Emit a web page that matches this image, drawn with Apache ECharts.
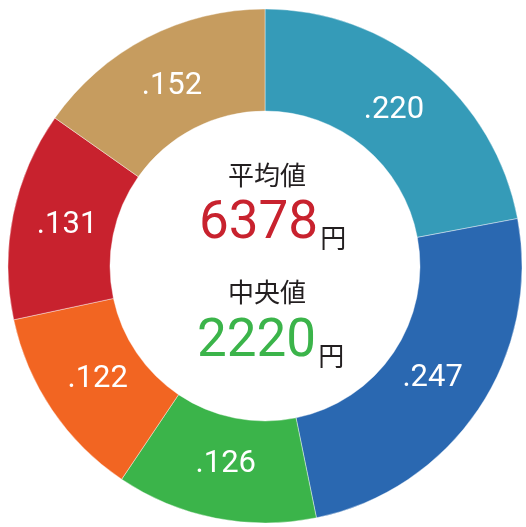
<!DOCTYPE html>
<html>
<head>
<meta charset="utf-8">
<script src="https://cdn.jsdelivr.net/npm/echarts@6/dist/echarts.min.js"></script>
<style>
  html, body { margin: 0; padding: 0; background: #fff; }
  #main { width: 526px; height: 527px; }
</style>
</head>
<body>
<div id="main"></div>
<script>
// slices, clockwise from 12 o'clock
var names = ['a', 'b', 'c', 'd', 'e', 'f'];
var values = [0.220, 0.247, 0.126, 0.122, 0.131, 0.152];
var colors = ['#359bb8', '#2a68b1', '#3bb44a', '#f26522', '#c8222e', '#c69c5f'];

var meanLabel = '平均値';
var meanValue = '6378';
var medianLabel = '中央値';
var medianValue = '2220';
var unit = '円';

var pieData = [];
for (var i = 0; i < values.length; i++) {
  pieData.push({ name: names[i], value: values[i], itemStyle: { color: colors[i] } });
}

var jp = '"Noto Sans CJK JP", sans-serif';
var num = 'Roboto, "DejaVu Sans", sans-serif';

var option = {
  animation: false,
  series: [{
    type: 'pie',
    center: [265, 266],
    radius: [155, 257],
    startAngle: 90,
    clockwise: true,
    silent: true,
    itemStyle: { borderColor: 'rgba(255,255,255,0.5)', borderWidth: 0.8 },
    label: { show: false },
    labelLine: { show: false },
    data: pieData
  }, {
    // same slices, transparent, only to put the labels a bit nearer the middle
    type: 'pie',
    center: [265, 266],
    radius: [141, 257],
    startAngle: 90,
    clockwise: true,
    silent: true,
    avoidLabelOverlap: false,
    itemStyle: { color: 'transparent' },
    label: {
      show: true,
      position: 'inside',
      color: '#fff',
      fontFamily: num,
      fontSize: 31,
      formatter: function (p) { return p.value.toFixed(3).slice(1); }
    },
    labelLine: { show: false },
    data: values
  }],
  graphic: [
    {
      type: 'text', left: 228, top: 162,
      style: { text: meanLabel, font: '26px ' + jp, fill: '#231f20' }
    },
    {
      type: 'text', left: 199, top: 198,
      style: {
        text: '{v|' + meanValue + '}{u|' + unit + '}',
        rich: {
          v: { fontFamily: num, fontSize: 53, fill: '#c8222e', verticalAlign: 'bottom', lineHeight: 54 },
          u: { fontFamily: jp, fontSize: 26, fill: '#231f20', verticalAlign: 'bottom', lineHeight: 54, padding: [0, 0, 0, 2] }
        }
      }
    },
    {
      type: 'text', left: 228, top: 279,
      style: { text: medianLabel, font: '26px ' + jp, fill: '#231f20' }
    },
    {
      type: 'text', left: 197, top: 316,
      style: {
        text: '{v|' + medianValue + '}{u|' + unit + '}',
        rich: {
          v: { fontFamily: num, fontSize: 53, fill: '#3bb44a', verticalAlign: 'bottom', lineHeight: 54 },
          u: { fontFamily: jp, fontSize: 26, fill: '#231f20', verticalAlign: 'bottom', lineHeight: 54, padding: [0, 0, 0, 2] }
        }
      }
    }
  ]
};

var myChart = echarts.init(document.getElementById('main'));
myChart.setOption(option, true);
</script>
</body>
</html>
